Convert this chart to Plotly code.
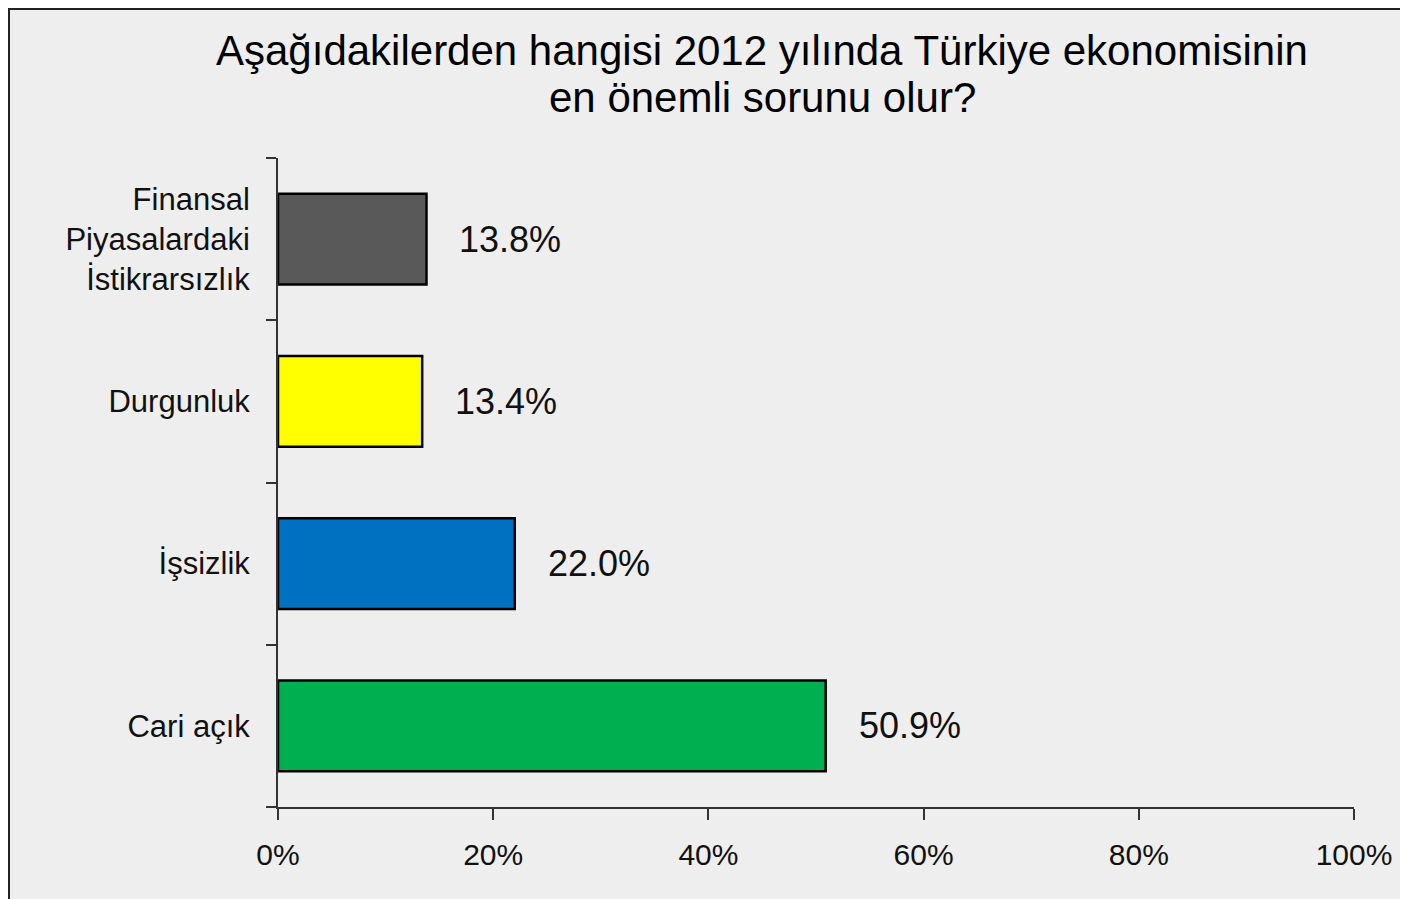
import plotly.graph_objects as go

categories = ["Finansal<br>Piyasalardaki<br>İstikrarsızlık", "Durgunluk", "İşsizlik", "Cari açık"]
values = [0.138, 0.134, 0.220, 0.509]
value_labels = ["13.8%", "13.4%", "22.0%", "50.9%"]
bar_colors = ["#595959", "#FFFF00", "#0070C0", "#00B050"]
x_ticks = [0, 0.2, 0.4, 0.6, 0.8, 1.0]
x_tick_labels = ["0%", "20%", "40%", "60%", "80%", "100%"]
title_lines = ["Aşağıdakilerden hangisi 2012 yılında Türkiye ekonomisinin", "en önemli sorunu olur?"]

# page body adds an 8px offset; figure sized to fill the rest of the window
OFF = 8
W, H = 1408 - OFF, 899 - OFF
ML, MR, MT, MB = 278 - OFF, 54, 158 - OFF, 92
FONT = "Liberation Sans, Arial, sans-serif"

pw, ph = W - ML - MR, H - MT - MB
def px_x(p):  # screen px -> paper x
    return (p - OFF - ML) / pw
def px_y(p):  # screen px -> paper y
    return (H - MB - (p - OFF)) / ph

fig = go.Figure()
fig.add_trace(go.Bar(
    x=values, y=categories, orientation="h",
    marker=dict(color=bar_colors, line=dict(color="#000000", width=2.5)),
    width=0.56, hoverinfo="skip",
))

for cat, v, lab in zip(categories, values, value_labels):
    fig.add_annotation(x=v, y=cat, text=lab, showarrow=False, xanchor="left",
                       xshift=31, font=dict(family=FONT, size=36, color="#111111"))

title_centers_y = [50, 97]
for line, cy in zip(title_lines, title_centers_y):
    fig.add_annotation(xref="paper", yref="paper", x=px_x(762), y=px_y(cy),
                       xanchor="center", yanchor="middle", showarrow=False, text=line,
                       font=dict(family=FONT, size=42, color="#000000"))

# outer frame (left and top visible)
fig.add_shape(type="line", xref="paper", yref="paper",
              x0=px_x(9), x1=px_x(9), y0=px_y(3), y1=px_y(920),
              line=dict(color="#222222", width=2), layer="above")
fig.add_shape(type="line", xref="paper", yref="paper",
              x0=px_x(8), x1=px_x(1420), y0=px_y(9), y1=px_y(9),
              line=dict(color="#222222", width=2), layer="above")

fig.update_layout(
    width=W, height=H,
    margin=dict(l=ML, r=MR, t=MT, b=MB),
    paper_bgcolor="#EEEEEE", plot_bgcolor="#EEEEEE",
    showlegend=False,
    xaxis=dict(range=[0, 1], tickvals=x_ticks, ticktext=x_tick_labels,
               showgrid=False, zeroline=False, showline=True, linecolor="#333333", linewidth=2,
               ticks="outside", ticklen=11, tickwidth=2, tickcolor="#333333",
               ticklabelstandoff=9,
               tickfont=dict(family=FONT, size=30, color="#111111")),
    yaxis=dict(categoryorder="array", categoryarray=categories[::-1], range=[-0.5, 3.5],
               showgrid=False, zeroline=False, showline=True, linecolor="#333333", linewidth=2,
               ticks="outside", ticklen=10, tickwidth=2, tickcolor="#333333",
               tickson="boundaries", ticklabelstandoff=20,
               tickfont=dict(family=FONT, size=31, color="#111111")),
)

fig.write_html("out.html")
